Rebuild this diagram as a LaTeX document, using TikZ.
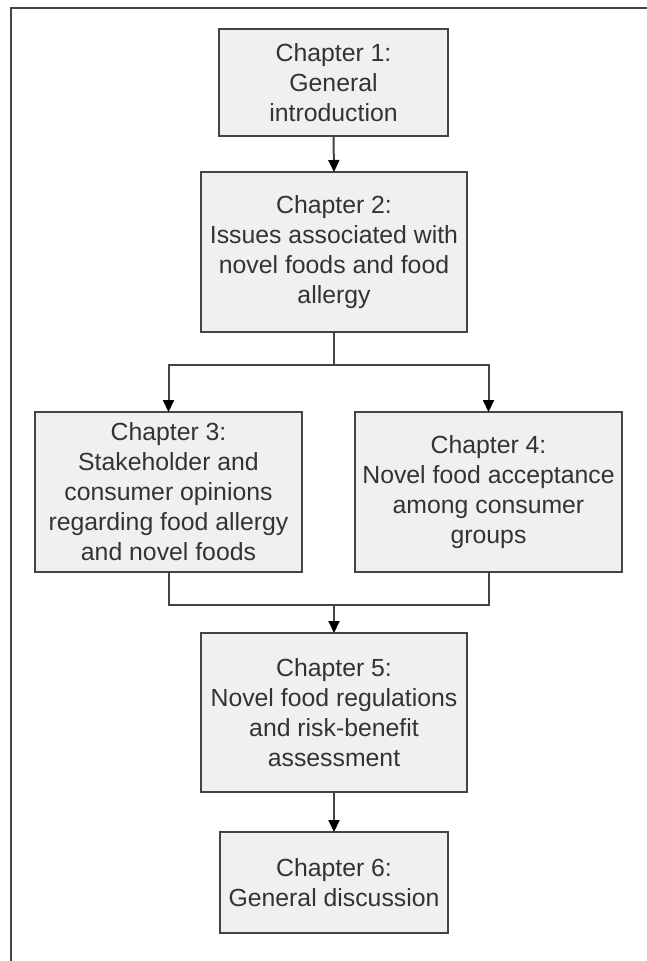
\documentclass[tikz,border=0pt]{standalone}
\usepackage{fontspec}
\setmainfont{Liberation Sans}
\usetikzlibrary{arrows.meta}
\definecolor{boxfill}{HTML}{F0F0F0}
\definecolor{boxline}{HTML}{444444}
\definecolor{txt}{HTML}{333333}
\begin{document}
\begin{tikzpicture}[x=1pt,y=-1pt,
  chap/.style={draw=boxline, line width=2pt, fill=boxfill, text=txt,
    align=center, inner sep=0pt, outer sep=0pt,
    font=\fontsize{24.8}{30}\selectfont},
  conn/.style={draw=boxline, line width=2pt},
  arr/.style={conn, -{Triangle[length=12pt,width=11pt,color=black]}}]
\useasboundingbox (0,0) rectangle (647,961);
\fill[white] (0,0) rectangle (647,961);
\draw[boxline, line width=2pt] (11,961) -- (11,8) -- (647,8);

\node[chap, minimum width=229pt, minimum height=107pt] (b1) at (333.5,82.5)
  {Chapter 1:\\General\\introduction};
\node[chap, minimum width=266pt, minimum height=160pt] (b2) at (334,252)
  {Chapter 2:\\Issues associated with\\novel foods and food\\allergy};
\node[chap, minimum width=267pt, minimum height=160pt] (b3) at (168.5,492)
  {Chapter 3:\\Stakeholder and\\consumer opinions\\regarding food allergy\\and novel foods};
\node[chap, minimum width=267pt, minimum height=160pt] (b4) at (488.5,492)
  {Chapter 4:\\Novel food acceptance\\among consumer\\groups};
\node[chap, minimum width=266pt, minimum height=159pt] (b5) at (334,712.5)
  {Chapter 5:\\Novel food regulations\\and risk-benefit\\assessment};
\node[chap, minimum width=228pt, minimum height=101pt] (b6) at (334,882.5)
  {Chapter 6:\\General discussion};

\coordinate (sp) at (334,365);
\coordinate (mg) at (334,605);

\draw[arr] (b1.south) -- (b2.north);
\draw[conn] (b2.south) -- (sp);
\draw[arr] (sp) -| (b3.north);
\draw[arr] (sp) -| (b4.north);
\draw[conn] (b3.south) -- (b3.south |- mg) -- (b4.south |- mg) -- (b4.south);
\draw[arr] (mg) -- (b5.north);
\draw[arr] (b5.south) -- (b6.north);
\end{tikzpicture}
\end{document}
